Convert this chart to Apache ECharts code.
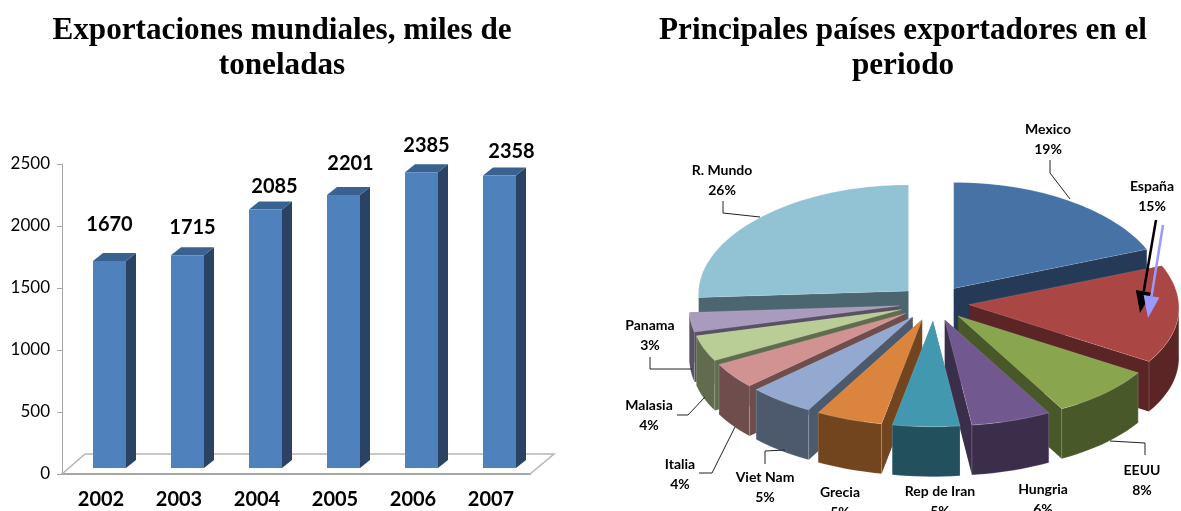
<!DOCTYPE html>
<html>
<head>
<meta charset="utf-8">
<title>Exportaciones mundiales</title>
<style>
  html, body { margin: 0; padding: 0; background: #fff; }
  #chart { width: 1181px; height: 511px; }
</style>
<script src="https://cdn.jsdelivr.net/npm/echarts@6/dist/echarts.min.js"></script>
</head>
<body>
<div id="chart"></div>
<script>
// bar chart data
const years = ['2002', '2003', '2004', '2005', '2006', '2007'];
const exports_kt = [1670, 1715, 2085, 2201, 2385, 2358];

// pie data, clockwise from the top
const countries = ['Mexico', 'España', 'EEUU', 'Hungria', 'Rep de Iran', 'Grecia', 'Viet Nam', 'Italia', 'Malasia', 'Panama', 'R. Mundo'];
const shares = [19, 15, 8, 6, 5, 5, 5, 4, 4, 3, 26];

const sliceTop = ['#4672a6', '#aa4643', '#89a54e', '#71588f', '#4298af', '#db843d', '#93a9cf', '#d19392', '#b9cd96', '#a99bbd', '#92c3d4'];
const sliceSide = ['#243a57', '#5a2524', '#485829', '#3b2e4b', '#22505c', '#73451f', '#4d5a6d', '#6e4d4c', '#616c4f', '#585163', '#4c6670'];

// hand placed labels, same as in the original sheet
const barLabelShift = [[0, -36], [5, -28], [9, -23], [7, -32], [5, -27], [12, -24]];
const pieLabelPos = [[1048, 139], [1152, 196], [1142, 480], [1043, 499], [940, 501], [840, 502], [765, 487], [680, 474], [649, 415], [650, 335], [722, 180]];
const leaders = [
  [[1050, 160], [1050, 173], [1070, 199]],
  [[1110, 441], [1145, 443], [1145, 455]],
  [[785, 450], [765, 451], [765, 464]],
  [[735, 427], [712, 473], [699, 473]],
  [[705, 397], [688, 415], [677, 415]],
  [[692, 369], [650, 369], [650, 357]],
  [[760, 217], [723, 213], [723, 201]]
];

// 3d look of the bars
const BAR_W = 33, DEPTH_X = 10, DEPTH_Y = 8, SHIFT_X = 8.5, SHIFT_Y = 6;
// 3d look of the pie, near: how much wider the front gets
const PIE = { cx: 934, cy: 303, a: 210, b: 106, h: 50, explode: 35, near: 0.03 };

const FONT = 'Lato, "Open Sans", sans-serif';

function renderBar(params, api) {
  const p = api.coord([api.value(0), api.value(1)]);
  const base = api.coord([api.value(0), 0]);
  const x0 = p[0] + SHIFT_X - BAR_W / 2, x1 = x0 + BAR_W;
  const top = p[1] - SHIFT_Y, bottom = base[1] - SHIFT_Y;
  const shift = barLabelShift[params.dataIndex];
  return {
    type: 'group',
    children: [
      { type: 'polygon', shape: { points: [[x1, top], [x1 + DEPTH_X, top - DEPTH_Y], [x1 + DEPTH_X, bottom - DEPTH_Y], [x1, bottom]] }, style: { fill: '#2a4365' } },
      { type: 'polygon', shape: { points: [[x0, top], [x0 + DEPTH_X, top - DEPTH_Y], [x1 + DEPTH_X, top - DEPTH_Y], [x1, top]] }, style: { fill: '#3a6291' } },
      { type: 'rect', shape: { x: x0, y: top, width: BAR_W, height: bottom - top }, style: { fill: '#4f81bd' } },
      { type: 'text', style: { text: String(api.value(1)), x: p[0] + SHIFT_X + shift[0], y: top + shift[1], align: 'center', verticalAlign: 'middle', fontFamily: FONT, fontWeight: 'bold', fontSize: 20, fill: '#000' } }
    ]
  };
}

const total = shares.reduce((s, v) => s + v, 0);
function sliceAngles(i) {
  const before = shares.slice(0, i).reduce((s, v) => s + v, 0);
  return [before / total * 360, (before + shares[i]) / total * 360];
}

function renderSlice(params) {
  const i = params.dataIndex;
  const [start, end] = sliceAngles(i);
  const mid = (start + end) / 2 * Math.PI / 180;
  const ox = PIE.cx + PIE.explode * Math.sin(mid);
  const oy = PIE.cy - PIE.explode * Math.cos(mid) * PIE.b / PIE.a;
  const pt = (deg, dy) => {
    const r = deg * Math.PI / 180;
    const a = PIE.a * (1 - PIE.near * Math.cos(r));
    return [ox + a * Math.sin(r), oy - PIE.b * Math.cos(r) + (dy || 0)];
  };
  const arc = (from, to, dy) => {
    const out = [];
    for (let d = from; d < to; d += 2) out.push(pt(d, dy));
    out.push(pt(to, dy));
    return out;
  };
  const apex = [ox, oy], apexLow = [ox, oy + PIE.h];
  const rank = Math.round(-Math.cos(mid) * 100) + 200;
  const fill = sliceSide[i];
  const children = [
    { type: 'polygon', z2: rank * 10, shape: { points: [apex, pt(start), pt(start, PIE.h), apexLow] }, style: { fill: fill } },
    { type: 'polygon', z2: rank * 10, shape: { points: [apex, pt(end), pt(end, PIE.h), apexLow] }, style: { fill: fill } }
  ];
  const rimFrom = Math.max(start, 90), rimTo = Math.min(end, 270);
  if (rimFrom < rimTo) {
    children.push({
      type: 'polygon', z2: rank * 10 + 1,
      shape: { points: arc(rimFrom, rimTo, 0).concat(arc(rimFrom, rimTo, PIE.h).reverse()) },
      style: { fill: fill, stroke: 'rgba(255,255,255,0.3)', lineWidth: 0.6 }
    });
  }
  children.push({
    type: 'polygon', z2: rank * 10 + 2,
    shape: { points: [apex].concat(arc(start, end, 0)) },
    style: { fill: sliceTop[i], stroke: 'rgba(255,255,255,0.25)', lineWidth: 0.6 }
  });
  const lp = pieLabelPos[i];
  children.push({
    type: 'text', z2: 9000,
    style: { text: countries[i] + '\n' + shares[i] + '%', x: lp[0], y: lp[1], align: 'center', verticalAlign: 'middle', lineHeight: 20, fontFamily: FONT, fontWeight: 'bold', fontSize: 14, fill: '#000' }
  });
  return { type: 'group', children: children };
}

function arrow(from, to, color, width) {
  const ang = Math.atan2(to[1] - from[1], to[0] - from[0]);
  const len = 22, half = 8;
  const bx = to[0] - len * Math.cos(ang), by = to[1] - len * Math.sin(ang);
  const nx = -Math.sin(ang), ny = Math.cos(ang);
  return [
    { type: 'polyline', z: 20, shape: { points: [from, [bx, by]] }, style: { stroke: color, lineWidth: width } },
    { type: 'polygon', z: 20, shape: { points: [to, [bx + nx * half, by + ny * half], [bx - nx * half, by - ny * half]] }, style: { fill: color } }
  ];
}

const chart = echarts.init(document.getElementById('chart'), null, { renderer: 'canvas' });

const titleStyle = { fontFamily: '"Liberation Serif", serif', fontWeight: 'bold', fontSize: 31.2, color: '#000', lineHeight: 35 };

chart.setOption({
  animation: false,
  backgroundColor: '#fff',
  title: [
    { text: 'Exportaciones mundiales, miles de\ntoneladas', left: 277, top: 8, textAlign: 'center', textStyle: titleStyle },
    { text: 'Principales países exportadores en el\nperiodo', left: 898, top: 8, textAlign: 'center', textStyle: titleStyle }
  ],
  grid: { left: 62, top: 164, width: 468, height: 310 },
  xAxis: {
    type: 'category',
    data: years,
    axisLine: { lineStyle: { color: '#a6a6a6', width: 2 } },
    axisTick: { length: 6, lineStyle: { color: '#a6a6a6' } },
    axisLabel: { color: '#000', fontFamily: FONT, fontWeight: 'bold', fontSize: 20, margin: 16 }
  },
  yAxis: {
    type: 'value',
    min: 0,
    max: 2500,
    interval: 500,
    splitLine: { show: false },
    axisLine: { show: true, lineStyle: { color: '#a6a6a6' } },
    axisTick: { show: true, length: 5, lineStyle: { color: '#a6a6a6' } },
    axisLabel: { color: '#000', fontFamily: FONT, fontSize: 17, margin: 12, formatter: v => String(v) }
  },
  graphic: [
    // floor of the 3d bar chart
    { type: 'polyline', z: 1, shape: { points: [[62, 474], [85, 454], [554, 454], [530, 474]] }, style: { stroke: '#b5b5b5', lineWidth: 1.5, fill: null } }
  ]
    .concat(leaders.map(l => ({ type: 'polyline', z: 20, shape: { points: l }, style: { stroke: '#222', lineWidth: 1, fill: null } })))
    .concat(arrow([1156, 220], [1140, 313], '#000', 2.5))
    .concat(arrow([1163, 225], [1148, 318], '#9999ff', 2.5)),
  series: [
    {
      type: 'custom',
      coordinateSystem: 'cartesian2d',
      data: years.map((y, i) => [i, exports_kt[i]]),
      encode: { x: 0, y: 1 },
      clip: false,
      renderItem: renderBar
    },
    {
      type: 'custom',
      coordinateSystem: 'none',
      data: shares,
      renderItem: renderSlice
    }
  ]
});
</script>
</body>
</html>
